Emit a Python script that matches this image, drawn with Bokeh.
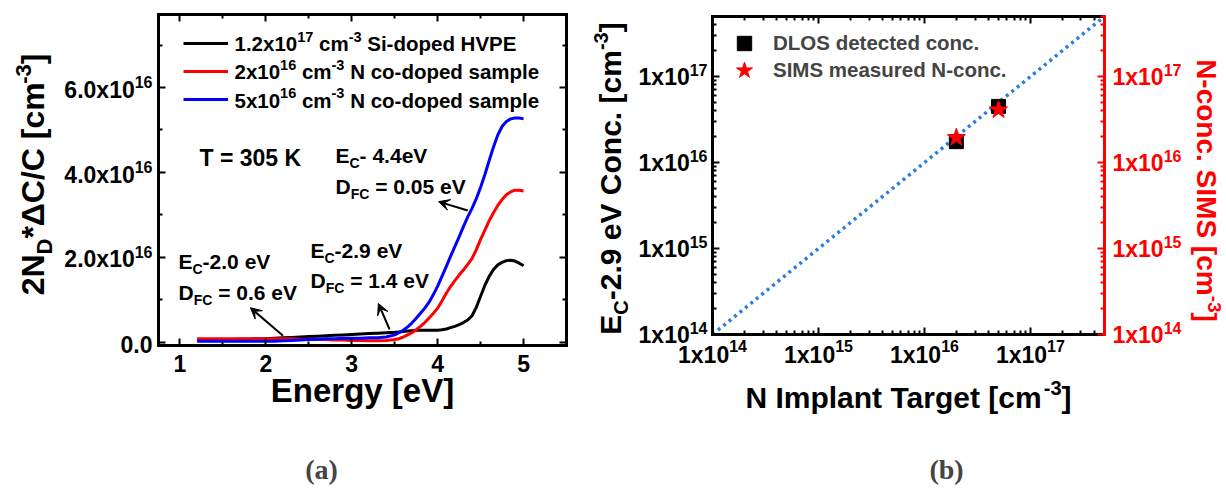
import math
from bokeh.plotting import figure
from bokeh.layouts import row
from bokeh.models import (Label, Arrow, VeeHead, LinearAxis, LogAxis, FixedTicker,
                          Legend, LegendItem, Range1d)
from bokeh.embed import file_html
from bokeh.resources import INLINE

# ---------------- data: (a) DLOS spectra, values in units of 1e16 cm^-3 ----------------
energy_ev = [1.2, 1.3, 1.4, 1.5, 1.6, 1.7, 1.8, 1.9, 2.0, 2.1, 2.2, 2.3, 2.4, 2.5,
             2.6, 2.7, 2.8, 2.9, 3.0, 3.1, 3.2, 3.3, 3.4, 3.5,
             3.55, 3.6, 3.65, 3.7, 3.75, 3.8, 3.85, 3.9, 3.95, 4.0,
             4.05, 4.1, 4.15, 4.2, 4.25, 4.3, 4.35, 4.4, 4.45, 4.5,
             4.55, 4.6, 4.65, 4.7, 4.75, 4.8, 4.85, 4.9, 4.95, 5.0]

si_hvpe_e16 = [0.05, 0.05, 0.05, 0.06, 0.06, 0.07, 0.07, 0.08, 0.08, 0.09, 0.10, 0.11, 0.12, 0.13,
               0.14, 0.15, 0.16, 0.17, 0.18, 0.19, 0.20, 0.21, 0.22, 0.23,
               0.24, 0.25, 0.26, 0.27, 0.28, 0.28, 0.28, 0.28, 0.28, 0.28,
               0.29, 0.31, 0.34, 0.37, 0.41, 0.46, 0.52, 0.62, 0.82, 1.08,
               1.34, 1.55, 1.71, 1.82, 1.88, 1.92, 1.93, 1.91, 1.86, 1.80]

n_2e16_e16 = [0.08, 0.08, 0.08, 0.08, 0.08, 0.08, 0.08, 0.08, 0.08, 0.08, 0.08, 0.08, 0.07, 0.07,
              0.06, 0.06, 0.05, 0.05, 0.04, 0.04, 0.03, 0.03, 0.04, 0.06,
              0.08, 0.12, 0.17, 0.22, 0.29, 0.37, 0.46, 0.57, 0.68, 0.80,
              0.97, 1.15, 1.31, 1.45, 1.58, 1.70, 1.83, 1.97, 2.18, 2.42,
              2.64, 2.86, 3.05, 3.22, 3.36, 3.47, 3.54, 3.58, 3.58, 3.56]

n_5e16_e16 = [0.02, 0.02, 0.02, 0.02, 0.02, 0.02, 0.02, 0.02, 0.02, 0.02, 0.03, 0.04, 0.05, 0.06,
              0.07, 0.08, 0.08, 0.09, 0.09, 0.09, 0.10, 0.10, 0.12, 0.17,
              0.22, 0.28, 0.36, 0.45, 0.56, 0.68, 0.80, 0.94, 1.12, 1.32,
              1.55, 1.78, 2.02, 2.25, 2.48, 2.72, 2.95, 3.15, 3.38, 3.65,
              3.95, 4.28, 4.60, 4.88, 5.08, 5.20, 5.26, 5.28, 5.28, 5.26]

# ---------------- data: (b) concentrations, cm^-3 ----------------
implant_target = [2e16, 5e16]
dlos_conc = [1.75e16, 4.5e16]
sims_conc = [1.95e16, 4.1e16]
unity_line = [1e14, 5e17]

a_yticks = [0.0, 2e16, 4e16, 6e16]
a_ytick_mant = ["0.0", "2.0", "4.0", "6.0"]
a_xticks = [1, 2, 3, 4, 5]
b_decades = [14, 15, 16, 17]

SANS = "Liberation Sans"
SERIF = "Liberation Serif"
BLUE_GUIDE = "#2a7de1"
ANCHOR_FIX = 0.38   # em: lifts a label's anchor so the given y is its alphabetic baseline
TICK_F, TICK_S = 23, 16

# advance widths (1/1000 em) of the bold sans face, for composing sub/superscripts
WIDTHS = {' ': 278, '(': 333, ')': 333, '*': 389, '-': 333, '.': 278, '/': 278, '=': 584,
          '[': 333, ']': 333, 'Δ': 668}
WIDTHS.update({d: 556 for d in "0123456789"})
WIDTHS.update(dict(zip("ABCDEFGHIJKLMNOPQRSTUVWXYZ",
                       [722, 722, 722, 722, 667, 611, 778, 722, 278, 556, 722, 611, 833,
                        722, 778, 667, 778, 722, 667, 611, 722, 667, 944, 667, 667, 611])))
WIDTHS.update(dict(zip("abcdefghijklmnopqrstuvwxyz",
                       [556, 611, 556, 611, 556, 333, 611, 611, 278, 278, 556, 278, 889,
                        611, 611, 611, 611, 389, 556, 333, 611, 556, 778, 556, 556, 500])))


def text_width(s, size):
    return sum(WIDTHS.get(ch, 556) for ch in s) / 1000.0 * size


def rich(fig, to_data, x, y, parts, angle=0.0, align="left", color="black"):
    """Lay out (text, size, rise) pieces along a baseline starting from pixel (x, y)."""
    total = sum(text_width(t, s) for t, s, _ in parts)
    pos = {"left": 0.0, "center": -total / 2.0, "right": -total}[align]
    dx, dy = math.cos(angle), -math.sin(angle)
    ux, uy = -math.sin(angle), -math.cos(angle)
    for t, s, rise in parts:
        lead = len(t) - len(t.lstrip(" "))
        p0 = pos + text_width(" " * lead, s)
        up = rise + ANCHOR_FIX * s
        px = x + dx * p0 + ux * up
        py = y + dy * p0 + uy * up
        xd, yd = to_data(px, py)
        fig.add_layout(Label(x=xd, y=yd, text=t.strip(" "), angle=angle,
                             text_font=SANS, text_font_style="bold",
                             text_font_size=f"{s}px", text_color=color,
                             text_align="left", text_baseline="alphabetic"))
        pos += text_width(t, s)


def caption(fig, to_data, x, y, text, size=28):
    xd, yd = to_data(x, y - ANCHOR_FIX * size)
    fig.add_layout(Label(x=xd, y=yd, text=text, text_font=SERIF, text_font_style="bold",
                         text_font_size=f"{size}px", text_align="center",
                         text_baseline="alphabetic"))


def style_axis(ax, color="black"):
    ax.axis_line_width = 3
    ax.axis_line_color = color
    ax.axis_line_cap = "square"
    ax.major_tick_line_color = color
    ax.minor_tick_line_color = color
    ax.major_tick_line_width = 2
    ax.minor_tick_line_width = 2
    ax.major_tick_in = 7
    ax.major_tick_out = 0
    ax.minor_tick_in = 4
    ax.minor_tick_out = 0
    ax.major_label_text_font_size = "0px"
    ax.major_label_text_color = None
    ax.major_label_standoff = 0


def base_figure(w, h, xr, yr, **kw):
    p = figure(width=w, height=h, x_range=xr, y_range=yr, x_axis_location=None,
               y_axis_location=None, output_backend="svg", toolbar_location=None,
               min_border=0, min_border_left=0, min_border_right=0, min_border_top=0,
               min_border_bottom=0, **kw)
    p.grid.visible = False
    p.outline_line_color = None
    p.background_fill_color = "white"
    p.border_fill_color = "white"
    return p


# ======================= panel (a) =======================
A_W, A_H = 590, 491
A_L, A_R, A_T, A_B = 158, 566, 14, 345          # plot box in canvas pixels
AX0, AX1 = 0.75, 5.5
AY0, AY1 = -0.08e16, 7.72e16


def a_data(px, py):
    return (AX0 + (px - A_L) / (A_R - A_L) * (AX1 - AX0),
            AY0 + (A_B - py) / (A_B - A_T) * (AY1 - AY0))


def a_ypix(v):
    return A_B - (v - AY0) / (AY1 - AY0) * (A_B - A_T)


def a_xpix(v):
    return A_L + (v - AX0) / (AX1 - AX0) * (A_R - A_L)


ax_lo, ay_lo = a_data(0, A_H)
ax_hi, ay_hi = a_data(A_W, 0)
pa = base_figure(A_W, A_H, Range1d(ax_lo, ax_hi), Range1d(ay_lo, ay_hi))

a_xt = FixedTicker(ticks=a_xticks, minor_ticks=[1.5, 2.5, 3.5, 4.5, 5.5])
a_yt = FixedTicker(ticks=a_yticks, minor_ticks=[1e16, 3e16, 5e16, 7e16])
for loc, fixed in (("below", AY0), ("above", AY1)):
    ax = LinearAxis(ticker=a_xt, fixed_location=fixed, bounds=(AX0, AX1))
    style_axis(ax)
    pa.add_layout(ax, loc)
for loc, fixed in (("left", AX0), ("right", AX1)):
    ax = LinearAxis(ticker=a_yt, fixed_location=fixed, bounds=(AY0, AY1))
    style_axis(ax)
    pa.add_layout(ax, loc)

r_si = pa.line(energy_ev, [v * 1e16 for v in si_hvpe_e16], line_color="black", line_width=3,
               line_join="round")
r_n2 = pa.line(energy_ev, [v * 1e16 for v in n_2e16_e16], line_color="#ff0000", line_width=3,
               line_join="round")
r_n5 = pa.line(energy_ev, [v * 1e16 for v in n_5e16_e16], line_color="#0000ff", line_width=3,
               line_join="round")

# legend keys (rows centred at y = 43, 71, 99 px); the labels are composed below
leg_a = Legend(items=[LegendItem(label=" ", renderers=[r_si]),
                      LegendItem(label=" ", renderers=[r_n2]),
                      LegendItem(label=" ", renderers=[r_n5])],
               location=(183, A_H - 33 - 76), glyph_width=45, glyph_height=20, spacing=8,
               padding=0, margin=0, label_standoff=0, label_text_font_size="1px",
               background_fill_alpha=0, border_line_color=None)
pa.add_layout(leg_a, "center")

LEG_F, LEG_S = 20.5, 14.5
for base, parts in ((50.7, [("1.2x10", LEG_F, 0), ("17", LEG_S, 9), (" cm", LEG_F, 0),
                            ("-3", LEG_S, 9), (" Si-doped HVPE", LEG_F, 0)]),
                    (79.0, [("2x10", LEG_F, 0), ("16", LEG_S, 9), (" cm", LEG_F, 0),
                            ("-3", LEG_S, 9), (" N co-doped sample", LEG_F, 0)]),
                    (107.3, [("5x10", LEG_F, 0), ("16", LEG_S, 9), (" cm", LEG_F, 0),
                             ("-3", LEG_S, 9), (" N co-doped sample", LEG_F, 0)])):
    rich(pa, a_data, 234, base, parts)

# tick labels
for v, m in zip(a_yticks, a_ytick_mant):
    py = a_ypix(v) + 11
    if v == 0:
        rich(pa, a_data, 152, py, [(m, TICK_F, 0)], align="right")
    else:
        rich(pa, a_data, 152, py, [(m + "x10", TICK_F, 0), ("16", TICK_S, 10)], align="right")
for v in a_xticks:
    rich(pa, a_data, a_xpix(v), 372, [(str(v), TICK_F, 0)], align="center")

# axis titles
rich(pa, a_data, 362, 403, [("Energy [eV]", 33, 0)], align="center")
rich(pa, a_data, 45, 174, [("2N", 32, 0), ("D", 22, -7), ("*", 32, 0), ("ΔC/C [cm", 32, 0),
                           ("-3", 22, 14), ("]", 32, 0)], angle=math.pi / 2, align="center")

# annotations
AN_F, AN_S = 21, 14
rich(pa, a_data, 199, 166.7, [("T = 305 K", 23, 0)])
rich(pa, a_data, 335, 163, [("E", AN_F, 0), ("C", AN_S, -5), ("- 4.4eV", AN_F, 0)])
rich(pa, a_data, 335, 194, [("D", AN_F, 0), ("FC", AN_S, -5), (" = 0.05 eV", AN_F, 0)])
rich(pa, a_data, 310, 258, [("E", AN_F, 0), ("C", AN_S, -5), ("-2.9 eV", AN_F, 0)])
rich(pa, a_data, 310, 288, [("D", AN_F, 0), ("FC", AN_S, -5), (" = 1.4 eV", AN_F, 0)])
rich(pa, a_data, 178, 269, [("E", AN_F, 0), ("C", AN_S, -5), ("-2.0 eV", AN_F, 0)])
rich(pa, a_data, 178, 300, [("D", AN_F, 0), ("FC", AN_S, -5), (" = 0.6 eV", AN_F, 0)])

for xs, ys, xe, ye in ((2.20, 0.15e16, 1.82, 0.81e16),
                       (3.44, 0.30e16, 3.31, 0.91e16),
                       (4.35, 3.10e16, 4.01, 3.31e16)):
    pa.add_layout(Arrow(x_start=xs, y_start=ys, x_end=xe, y_end=ye, line_width=2,
                        line_color="black",
                        end=VeeHead(size=11, fill_color="black", line_color="black")))

caption(pa, a_data, 321, 480, "(a)")

# ======================= panel (b) =======================
B_W, B_H = 636, 491
B_L, B_R, B_T, B_B = 122, 514, 16, 334          # plot box in canvas pixels
BLO, BHI = 1e14, 5e17
DEC = math.log10(BHI / BLO)


def b_data(px, py):
    return (10 ** (14 + (px - B_L) / (B_R - B_L) * DEC),
            10 ** (14 + (B_B - py) / (B_B - B_T) * DEC))


def b_xpix(d):
    return B_L + (d - 14) / DEC * (B_R - B_L)


def b_ypix(d):
    return B_B - (d - 14) / DEC * (B_B - B_T)


bx_lo, by_lo = b_data(0, B_H)
bx_hi, by_hi = b_data(B_W, 0)
pb = base_figure(B_W, B_H, Range1d(bx_lo, bx_hi), Range1d(by_lo, by_hi),
                 x_axis_type="log", y_axis_type="log")

major = [10.0 ** d for d in b_decades]
minor = [k * 10.0 ** d for d in (14, 15, 16, 17) for k in range(2, 10) if k * 10.0 ** d <= BHI]
b_t = FixedTicker(ticks=major, minor_ticks=minor)
for loc, fixed in (("below", BLO), ("above", BHI)):
    ax = LogAxis(ticker=b_t, fixed_location=fixed, bounds=(BLO, BHI))
    style_axis(ax)
    pb.add_layout(ax, loc)
for loc, fixed, color in (("left", BLO, "black"), ("right", BHI, "#ff0000")):
    ax = LogAxis(ticker=b_t, fixed_location=fixed, bounds=(BLO, BHI))
    style_axis(ax, color=color)
    pb.add_layout(ax, loc)

pb.line(unity_line, unity_line, line_color=BLUE_GUIDE, line_width=3.5, line_dash="3 4")
r_sq = pb.scatter(implant_target, dlos_conc, marker="square", size=14,
                  fill_color="black", line_color="black")
r_st = pb.scatter(implant_target, sims_conc, marker="star", size=19,
                  fill_color="#ff0000", line_color="#ff0000")

for item, left, top, g, stand in (
        (LegendItem(label="DLOS detected conc.", renderers=[r_sq]), 136, 25, 36, 11),
        (LegendItem(label="SIMS measured N-conc.", renderers=[r_st]), 133, 49, 42, 8)):
    pb.add_layout(Legend(items=[item], location=(left, B_H - top - g), glyph_width=g,
                         glyph_height=g, padding=0, margin=0, spacing=0, label_standoff=stand,
                         label_text_font=SANS, label_text_font_style="bold",
                         label_text_font_size="20.5px", background_fill_alpha=0,
                         border_line_color=None), "center")

for d in b_decades:
    rich(pb, b_data, 117, b_ypix(d) + 9.4, [("1x10", TICK_F, 0), (str(d), TICK_S, 10)],
         align="right")
    rich(pb, b_data, 522, b_ypix(d) + 9.4, [("1x10", TICK_F, 0), (str(d), TICK_S, 10)],
         color="#ff0000")
    rich(pb, b_data, b_xpix(d), 363, [("1x10", TICK_F, 0), (str(d), TICK_S, 11)],
         align="center")

rich(pb, b_data, 318, 408, [("N Implant Target [cm", 30, 0), ("-3", 20, 13), ("]", 30, 0)],
     align="center")
rich(pb, b_data, 31, 178, [("E", 30, 0), ("C", 20, -7), ("-2.9 eV Conc. [cm", 30, 0),
                           ("-3", 20, 13), ("]", 30, 0)], angle=math.pi / 2, align="center")
rich(pb, b_data, 605, 190, [("N-conc. SIMS [cm", 28, 0), ("-3", 19, 12), ("]", 28, 0)],
     angle=-math.pi / 2, align="center", color="#ff0000")

caption(pb, b_data, 356, 480, "(b)")

layout = row(pa, pb, spacing=0)
open("out.html", "w").write(file_html(layout, INLINE))
